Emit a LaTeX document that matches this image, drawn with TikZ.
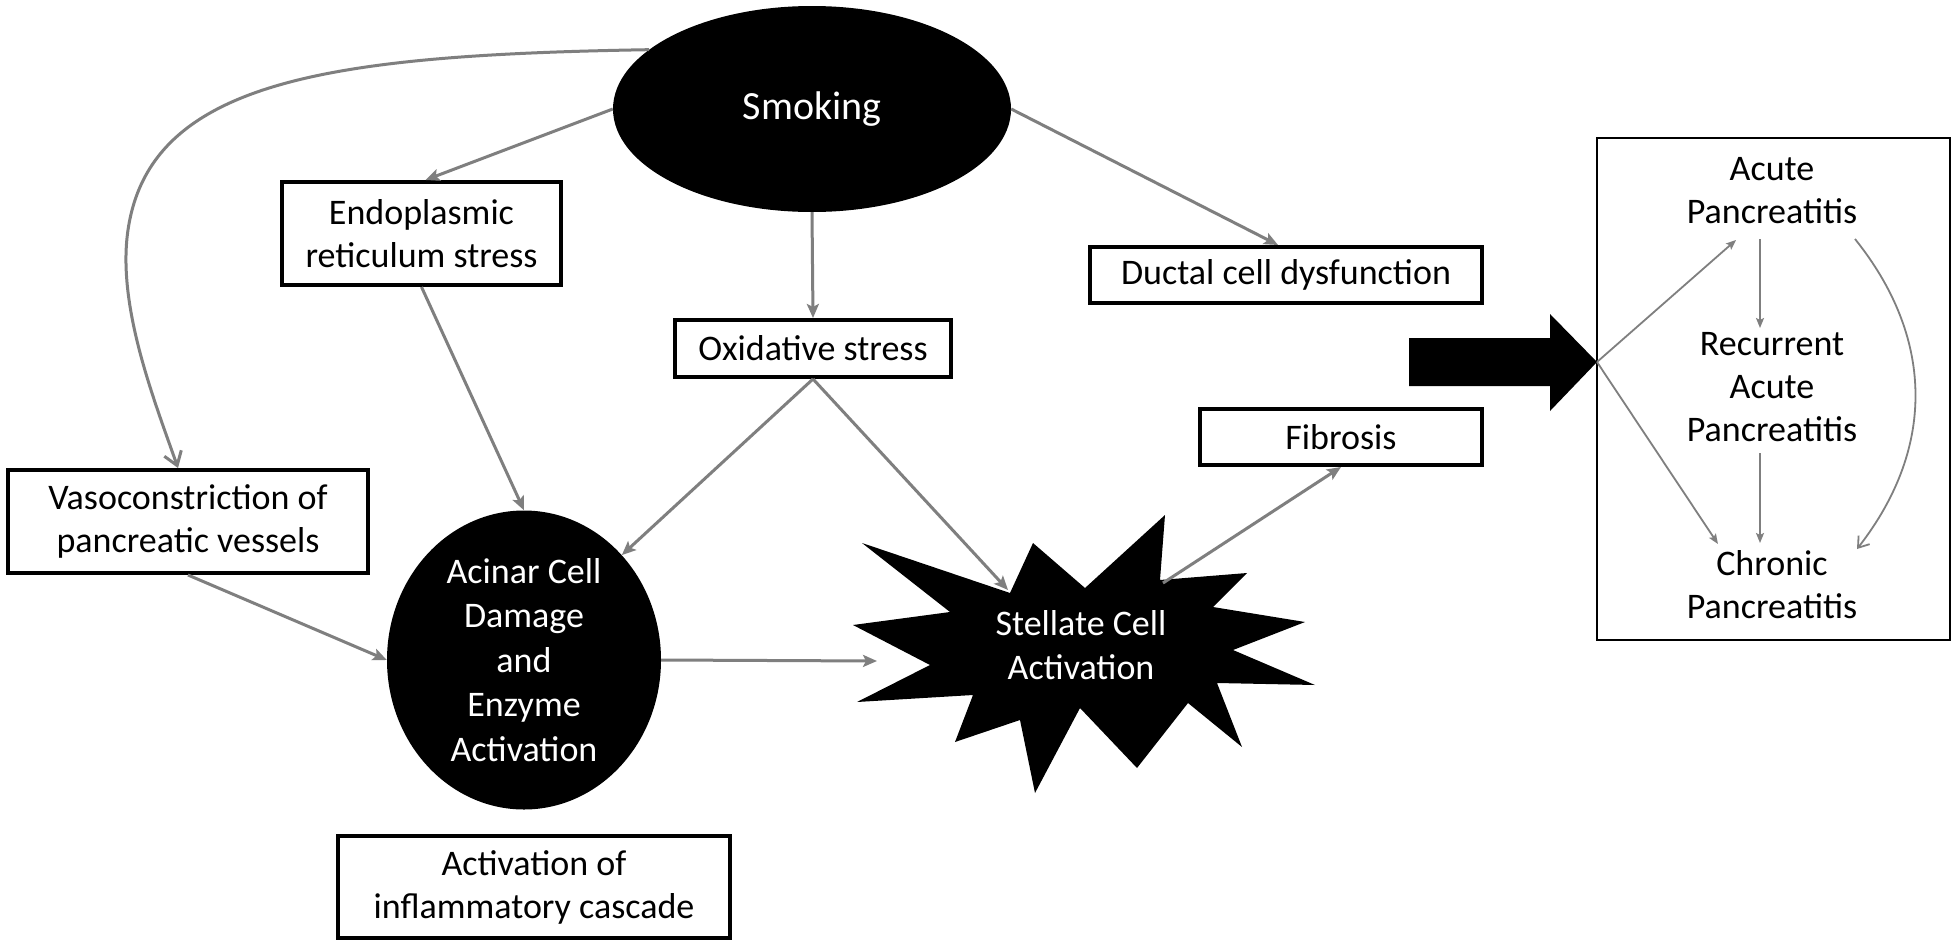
\documentclass[tikz,border=0pt]{standalone}
\usepackage{fontspec}
\setmainfont{Carlito}
\usetikzlibrary{shapes.geometric,arrows.meta,calc}
\definecolor{arrowgray}{HTML}{7F7F7F}
\tikzset{
  box/.style={draw=black, line width=4pt, fill=white, inner sep=0pt, align=center, font=\fontsize{36}{43}\selectfont},
  blackell/.style={ellipse, fill=black, inner sep=0pt, text=white, align=center},
  lbl/.style={inner sep=0pt, align=center, font=\fontsize{36}{43}\selectfont},
  link/.style={draw=arrowgray, line width=3pt, -{Stealth[length=14pt,width=12pt,inset=3pt]}},
  curvelink/.style={draw=arrowgray, line width=3pt, -{Straight Barb[length=13pt,width=18pt]}},
  thinlink/.style={draw=arrowgray, line width=1.8pt, -{Stealth[length=10pt,width=8pt,inset=2pt]}},
  thincurve/.style={draw=arrowgray, line width=1.8pt, -{Straight Barb[length=10pt,width=14pt]}},
}
\begin{document}
\begin{tikzpicture}[x=1pt,y=-1pt]
\useasboundingbox[fill=white] (0,0) rectangle (1952,948);

% main shapes
\node[blackell, minimum width=398pt, minimum height=206pt, font=\fontsize{40}{48}\selectfont] (smoking) at (812,109) {Smoking};
\node[box, minimum width=279pt, minimum height=103pt] (endo) at (421.5,233.5) {Endoplasmic\\reticulum stress};
\node[box, minimum width=276pt, minimum height=57pt] (oxi) at (813,348.5) {Oxidative stress};
\node[box, minimum width=392pt, minimum height=56pt] (ductal) at (1286,275) {Ductal cell dysfunction};
\node[box, minimum width=360pt, minimum height=103pt] (vaso) at (188,521.5) {Vasoconstriction of\\pancreatic vessels};
\node[box, minimum width=282pt, minimum height=56pt] (fib) at (1341,437) {Fibrosis};
\node[box, minimum width=392pt, minimum height=102pt] (infl) at (534,887) {Activation of\\inflammatory cascade};
\node[blackell, minimum width=274pt, minimum height=299pt, font=\fontsize{36}{44.5}\selectfont] (acinar) at (524,660) {Acinar Cell\\Damage\\and\\Enzyme\\Activation};

% star
\fill[black] (862,543) -- (1010,593) -- (1033,543) -- (1085,588) -- (1165,515) -- (1160,580)
  -- (1247,573) -- (1213,607) -- (1305,622) -- (1233,650) -- (1315,685) -- (1217,683)
  -- (1242,747) -- (1188,703) -- (1137,768) -- (1080,708) -- (1035,793) -- (1020,720)
  -- (955,742) -- (973,695) -- (857,702) -- (930,665) -- (853,625) -- (950,612) -- cycle;
\node[lbl, text=white, font=\fontsize{36}{44}\selectfont] (stellate) at (1081,645) {Stellate Cell\\Activation};
\coordinate (stA) at (877,661);
\coordinate (stO) at (1008,590);
\coordinate (stF) at (1163,583);

% big arrow
\fill[black] (1409,338) -- (1550,338) -- (1550,314) -- (1597,362) -- (1550,411) -- (1550,386) -- (1409,386) -- cycle;
\coordinate (bigtip) at (1597,362);

% right box
\node[draw=black, line width=1.5pt, minimum width=353pt, minimum height=502pt, inner sep=0pt] (rbox) at (1773.5,389) {};
\node[lbl] (acute) at (1772,191) {Acute\\Pancreatitis};
\node[lbl] (recur) at (1772,387) {Recurrent\\Acute\\Pancreatitis};
\node[lbl] (chronic) at (1772,585) {Chronic\\Pancreatitis};

% connectors main
\draw[curvelink] (smoking.160) .. controls (330,55) and (150,80) .. (128,230)
  .. controls (117,305) and (153,397) .. ([xshift=-10pt]vaso.north);
\draw[link] (smoking.west) -- ([xshift=4pt]endo.north);
\draw[link] (smoking.south) -- (oxi.north);
\draw[link] (smoking.east) -- ([xshift=-8pt]ductal.north);
\draw[link] (endo.south) -- (acinar.north);
\draw[link] (oxi.south) -- (acinar.47);
\draw[link] (oxi.south) -- (stO);
\draw[link] (vaso.south) -- (acinar.west);
\draw[link] (acinar.east) -- (stA);
\draw[link] (stF) -- (fib.south);

% connectors right box
\draw[thinlink] (bigtip) -- ($(acute)+(-36,49)$);
\draw[thinlink] (bigtip) -- ($(chronic)+(-54,-41)$);
\draw[thinlink] ($(acute)+(-12,48)$) -- ($(recur)+(-12,-59)$);
\draw[thinlink] ($(recur)+(-12,66)$) -- ($(chronic)+(-12,-42)$);
\draw[thincurve] ($(acute)+(83,48)$) .. controls (1932,335) and (1938,445) .. ($(chronic)+(85,-36)$);
\end{tikzpicture}
\end{document}
